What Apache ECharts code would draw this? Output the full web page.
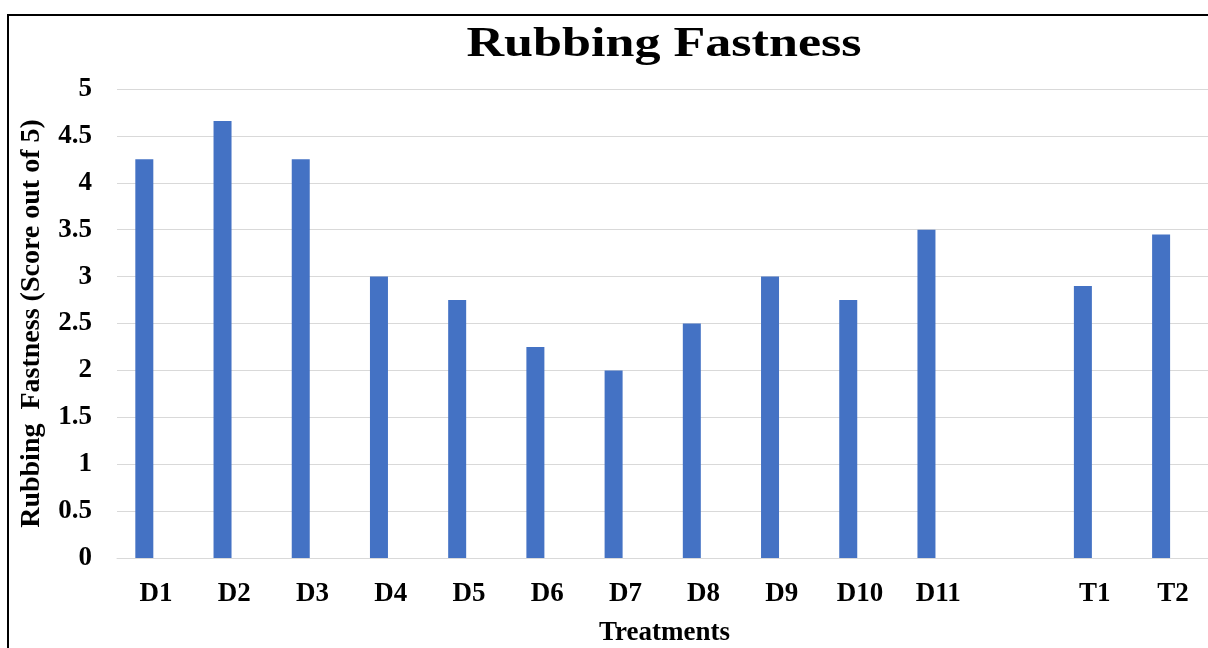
<!DOCTYPE html>
<html>
<head>
<meta charset="utf-8">
<title>Rubbing Fastness</title>
<script src="https://cdn.jsdelivr.net/npm/echarts@6/dist/echarts.min.js"></script>
<style>
  html, body { margin: 0; padding: 0; background: #ffffff; }
  #chart { width: 1208px; height: 648px; }
</style>
</head>
<body>
<div id="chart"></div>
<script>
// Treatments on the x axis (one empty slot separates the D and T groups)
const categories = ['D1', 'D2', 'D3', 'D4', 'D5', 'D6', 'D7', 'D8', 'D9', 'D10', 'D11', '', 'T1', 'T2'];
// Rubbing fastness scores (out of 5)
const scores = [4.25, 4.66, 4.25, 3.0, 2.75, 2.25, 2.0, 2.5, 3.0, 2.75, 3.5, null, 2.9, 3.45];
// Value axis ticks
const yTicks = { min: 0, max: 5, interval: 0.5 };

const serif = "'Liberation Serif', 'Times New Roman', serif";
const chart = echarts.init(document.getElementById('chart'), null, { renderer: 'canvas' });

chart.setOption({
  animation: false,
  backgroundColor: '#ffffff',
  graphic: [
    {
      // chart frame
      type: 'rect',
      shape: { x: 8, y: 15, width: 1400, height: 1000 },
      style: { fill: 'none', stroke: '#000000', lineWidth: 2 },
      silent: true
    },
    {
      // chart title, slightly widened display face
      type: 'text',
      x: 664,
      y: 45,
      scaleX: 1.24,
      style: {
        text: 'Rubbing Fastness',
        fontFamily: serif,
        fontWeight: 'bold',
        fontSize: 42,
        fill: '#000000',
        align: 'center',
        verticalAlign: 'middle'
      },
      silent: true
    }
  ],
  grid: { left: 117, top: 89, width: 1095, height: 469, outerBoundsMode: 'none', containLabel: false },
  xAxis: {
    type: 'category',
    data: categories,
    name: 'Treatments',
    nameLocation: 'middle',
    nameGap: 62,
    nameTextStyle: { fontFamily: serif, fontWeight: 'bold', fontSize: 27, color: '#000000' },
    axisLine: { show: true, lineStyle: { color: '#d9d9d9', width: 1 } },
    axisTick: { show: false },
    axisLabel: { interval: 0, margin: 23, fontFamily: serif, fontWeight: 'bold', fontSize: 27, color: '#000000' },
    splitLine: { show: false }
  },
  yAxis: {
    type: 'value',
    min: yTicks.min,
    max: yTicks.max,
    interval: yTicks.interval,
    name: 'Rubbing  Fastness (Score out of 5)',
    nameLocation: 'middle',
    nameGap: 71,
    nameTextStyle: { fontFamily: serif, fontWeight: 'bold', fontSize: 28, color: '#000000' },
    axisLine: { show: false },
    axisTick: { show: false },
    axisLabel: { margin: 25, fontFamily: serif, fontWeight: 'bold', fontSize: 27, color: '#000000' },
    splitLine: { show: true, lineStyle: { color: '#d9d9d9', width: 1 } }
  },
  series: [
    {
      name: 'Rubbing Fastness',
      type: 'bar',
      data: scores,
      barWidth: 18,
      barGap: '31%',
      itemStyle: { color: '#4472c4' }
    },
    {
      // second column slot in each cluster, left unfilled
      name: 'Reserved',
      type: 'bar',
      data: [],
      barWidth: 18,
      itemStyle: { color: '#ed7d31' }
    }
  ]
});
</script>
</body>
</html>
